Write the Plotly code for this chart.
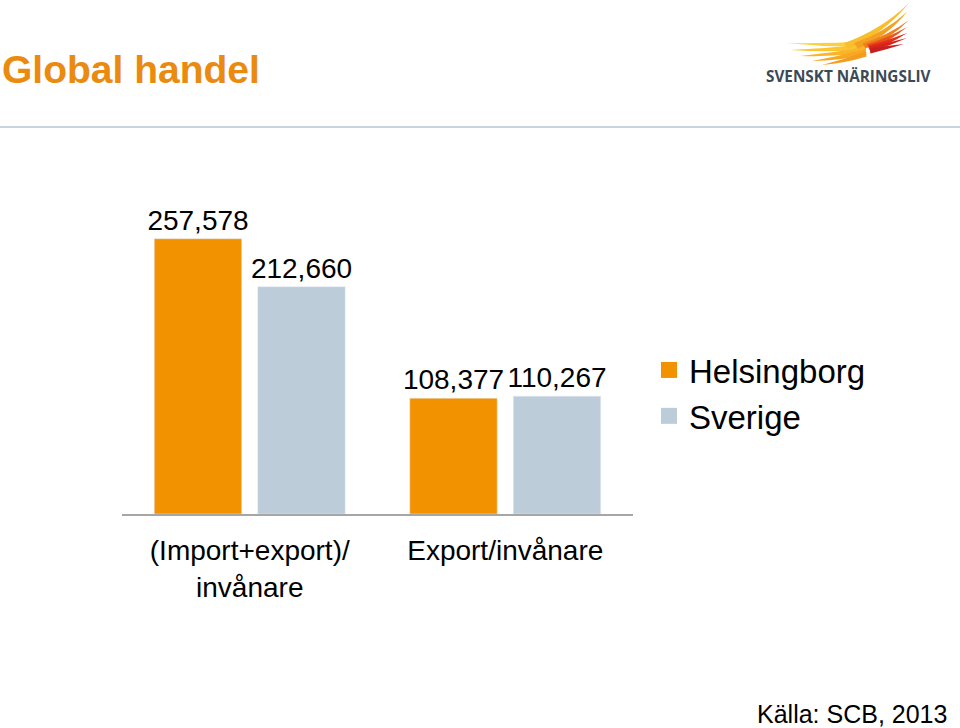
import plotly.graph_objects as go

categories = ["(Import+export)/<br>invånare", "Export/invånare"]
series_names = ["Helsingborg", "Sverige"]
helsingborg = [257578, 108377]
sverige = [212660, 110267]
title_text = "Global handel"
source_text = "Källa: SCB, 2013"
logo_text = "SVENSKT NÄRINGSLIV"

ORANGE = "#F39200"
GREY = "#BDCCD9"
FONT = "Liberation Sans"

W, H = 960, 728
ML, MR, MT, MB = 122, 327, 140, 214
PW, PH = W - ML - MR, H - MT - MB


def px(x):
    return (x - ML) / PW


def py(y):
    return (H - MB - y) / PH


fig = go.Figure()
for name, vals, col in [(series_names[0], helsingborg, ORANGE), (series_names[1], sverige, GREY)]:
    fig.add_trace(go.Bar(
        x=categories, y=vals, name=name, marker_color=col, showlegend=False,
        texttemplate="%{y:,}", textposition="outside", cliponaxis=False,
        constraintext="none",
        textfont=dict(size=28, color="#000000", family=FONT),
    ))
    fig.add_trace(go.Scatter(
        x=[None], y=[None], mode="markers", name=name,
        marker=dict(symbol="square", size=16, color=col),
    ))

shapes = []
# separator line
shapes.append(dict(type="line", xref="paper", yref="paper", x0=px(0), x1=px(960),
                   y0=py(127), y1=py(127), line=dict(color="#C9D4E0", width=2)))


def feather(base, tip, w, bend, color):
    import math
    bx, by = base
    tx, ty = tip
    dx, dy = tx - bx, ty - by
    L = math.hypot(dx, dy)
    nx, ny = -dy / L, dx / L
    mx, my = (bx + tx) / 2 + nx * bend, (by + ty) / 2 + ny * bend
    b1 = (bx + nx * w, by + ny * w)
    b2 = (bx - nx * w, by - ny * w)
    c1 = (mx + nx * w * 0.7, my + ny * w * 0.7)
    c2 = (mx - nx * w * 0.7, my - ny * w * 0.7)
    pts = lambda p: f"{px(p[0]):.5f},{py(p[1]):.5f}"
    path = f"M {pts(b1)} Q {pts(c1)} {pts(tip)} Q {pts(c2)} {pts(b2)} Z"
    return dict(type="path", xref="paper", yref="paper", path=path,
                fillcolor=color, line=dict(width=0))


feathers = [
    ((866, 44), (786, 43), 2.5, -2, "#FBD03A"),
    ((866, 47), (790, 50), 3.0, -2, "#FAC432"),
    ((866, 50), (800, 56), 3.0, -2, "#F9B52A"),
    ((866, 52), (812, 61), 3.0, -2, "#F7A823"),
    ((866, 54), (822, 65), 2.5, -2, "#F59C1E"),
    ((846, 46), (909, 3), 3.5, 9, "#F8BE2E"),
    ((856, 46), (907, 12), 3.5, 7, "#F4A022"),
    ((864, 46), (909, 20), 3.0, 5, "#EF801C"),
    ((868, 47), (907, 27), 3.0, 3, "#E8561E"),
    ((870, 48), (907, 33), 3.0, 2, "#E2301A"),
    ((870, 49), (907, 38), 2.5, 1, "#D9221A"),
    ((870, 51), (904, 44), 2.5, 0, "#C81E1E"),
]
for f in feathers:
    shapes.append(feather(*f))

annotations = [
    dict(text=f"<b>{title_text}</b>", x=px(0), y=py(70), xref="paper", yref="paper",
         xanchor="left", yanchor="middle", showarrow=False,
         font=dict(size=39, color="#EA8A0E", family=FONT)),
    dict(text=f"<b>{logo_text}</b>", x=px(848.5), y=py(76), xref="paper", yref="paper",
         xanchor="center", yanchor="middle", showarrow=False,
         font=dict(size=15.3, color="#3B4A57", family="Open Sans")),
    dict(text=source_text, x=px(949), y=py(714), xref="paper", yref="paper",
         xanchor="right", yanchor="middle", showarrow=False,
         font=dict(size=25, color="#000000", family=FONT)),
]

fig.update_layout(
    width=W, height=H,
    margin=dict(l=ML, r=MR, t=MT, b=MB, autoexpand=False),
    paper_bgcolor="white", plot_bgcolor="white",
    barmode="group", bargap=0.19, bargroupgap=0.155,
    font=dict(family=FONT, color="#000000"),
    xaxis=dict(showline=True, linecolor="#A6A6A6", linewidth=1.5, ticks="",
               showgrid=False, tickfont=dict(size=28, color="#000000"),
               ticklabelstandoff=11),
    yaxis=dict(visible=False, range=[0, 350000], showgrid=False, zeroline=False),
    legend=dict(x=px(649), y=py(342), xanchor="left", yanchor="top",
                font=dict(size=33, color="#000000"), bgcolor="rgba(0,0,0,0)",
                traceorder="normal"),
    shapes=shapes, annotations=annotations,
)

fig.write_html("out.html", config={"displayModeBar": False},
               post_script="document.body.style.margin='0px';document.body.style.overflow='hidden';")
